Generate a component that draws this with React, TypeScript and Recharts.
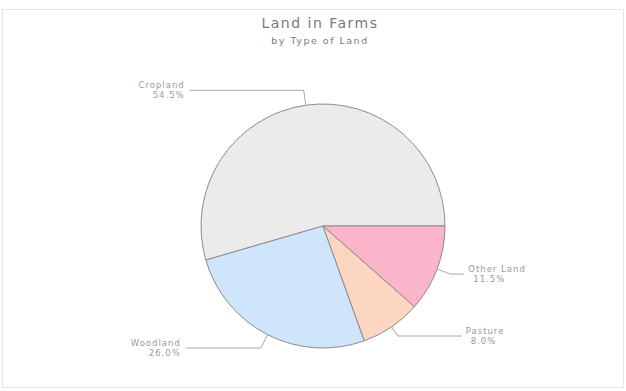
import { PieChart, Pie, Cell } from "recharts"

const landTypes = ["Cropland", "Woodland", "Pasture", "Other Land"]
const landShares = [54.5, 26.0, 8.0, 11.5]
const sliceColors = ["#ecebe9", "#cfe5fb", "#fdd6c2", "#fbb5ca"]

const data = landTypes.map((name, i) => ({ name, value: landShares[i] }))

const RAD = Math.PI / 180
const textColor = "#9a9a9a"
const font = "'DejaVu Sans', sans-serif"

// leader lines: rim point -> elbow -> horizontal run to the text
const elbows = [15, 15, 11, 14]
const runs = [114, 75, 64, 14]

function renderLabel(props: any) {
  const { cx, cy, outerRadius, midAngle, index, name, value } = props
  const cos = Math.cos(-midAngle * RAD)
  const sin = Math.sin(-midAngle * RAD)
  const sx = cx + outerRadius * cos
  const sy = cy + outerRadius * sin
  const ex = cx + (outerRadius + elbows[index]) * cos
  const ey = cy + (outerRadius + elbows[index]) * sin
  const right = cos >= 0
  const tx = right ? ex + runs[index] : ex - runs[index]
  const label = `${value.toFixed(1)}%`
  const x1 = right ? tx + 4 : tx - 5
  const x2 = right ? tx + 9 : tx - 5
  return (
    <g>
      <polyline
        points={`${sx},${sy} ${ex},${ey} ${tx},${ey}`}
        fill="none"
        stroke="#a8a8a8"
        strokeWidth={1}
      />
      <text
        x={x1}
        y={ey - 2}
        textAnchor={right ? "start" : "end"}
        fontSize={8.5}
        letterSpacing={1}
        fontFamily={font}
        fill={textColor}
      >
        <tspan x={x1}>{name}</tspan>
        <tspan x={x2} dy={10}>{label}</tspan>
      </text>
    </g>
  )
}

export default function App() {
  return (
    <div
      style={{
        position: "absolute",
        left: 0,
        top: 0,
        width: 626,
        height: 391,
        background: "#fff",
      }}
    >
      <div
        style={{
          position: "absolute",
          left: 2,
          top: 9,
          width: 620,
          height: 377,
          border: "1px solid #e6e6e6",
        }}
      />
      <div
        style={{
          position: "absolute",
          top: 14,
          left: 0,
          width: 640,
          textAlign: "center",
          fontFamily: font,
          color: "#7a7a7a",
        }}
      >
        <div style={{ fontSize: 14, letterSpacing: 1.5, lineHeight: "18px" }}>Land in Farms</div>
        <div style={{ fontSize: 9.5, letterSpacing: 1.5, lineHeight: "14px", marginTop: 2 }}>by Type of Land</div>
      </div>
      <div style={{ position: "absolute", left: 0, top: 0 }}>
        <PieChart width={626} height={391} margin={{ top: 0, right: 0, bottom: 0, left: 0 }}>
          <Pie
            data={data}
            dataKey="value"
            nameKey="name"
            cx={323}
            cy={226}
            outerRadius={122}
            startAngle={0}
            endAngle={360}
            stroke="#8c8c8c"
            strokeWidth={1}
            label={renderLabel}
            labelLine={false}
            isAnimationActive={false}
          >
            {data.map((d, i) => (
              <Cell key={d.name} fill={sliceColors[i]} />
            ))}
          </Pie>
        </PieChart>
      </div>
    </div>
  )
}
